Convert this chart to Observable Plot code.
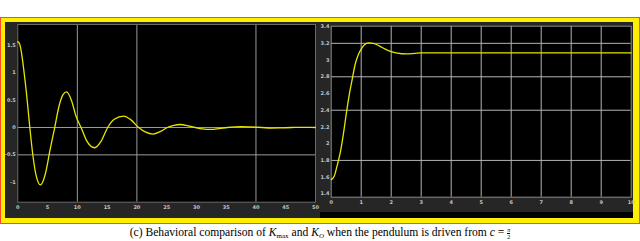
<!DOCTYPE html>
<html><head><meta charset="utf-8">
<script src="https://cdn.jsdelivr.net/npm/d3@7"></script>
<script src="https://cdn.jsdelivr.net/npm/@observablehq/plot@0.6"></script>
<style>
html,body{margin:0;padding:0;background:#fff;width:640px;height:241px;overflow:hidden;position:relative;}
#frame{position:absolute;left:0;top:17px;width:640px;height:207px;background:#ff4a2a;}
#frame2{position:absolute;left:1px;top:1px;right:1px;bottom:1px;background:#ffee00;}
#left{position:absolute;left:5px;top:22px;width:315px;height:196px;background:#262626;}
#right{position:absolute;left:320px;top:22px;width:313px;height:196px;background:#262626;}
#rstrip{position:absolute;left:0;top:190px;width:313px;height:6px;background:#000;}
#caption{position:absolute;left:0;width:640px;top:226px;text-align:center;font-family:"Liberation Serif",serif;font-size:11.6px;line-height:13px;color:#000;white-space:nowrap;}
#caption sub{font-size:7px;vertical-align:-2px;line-height:0;}
.frac{display:inline-block;vertical-align:-3px;text-align:center;font-size:6px;line-height:6px;}
.frac span{display:block;}
.frac .num{border-bottom:0.6px solid #000;}
#left svg,#right svg{position:absolute;left:0;top:0;}
</style></head>
<body>
<div id="frame"><div id="frame2"></div></div>
<div id="left"></div>
<div id="right"><div id="rstrip"></div></div>
<div id="caption">(c) Behavioral comparison of <i>K</i><sub>max</sub> and <i>K</i><sub><i>O</i></sub> when the pendulum is driven from <i>c</i> = <span class="frac"><span class="num"><i>π</i></span><span>2</span></span></div>
<script>
// Left panel: pendulum angle vs time (K_max)
const leftTime  = [0, 0.3, 0.6, 1.0, 1.5, 2.0, 2.5, 3.0, 3.8, 4.6, 5.4, 6.2, 6.9, 7.6, 8.2, 9.0, 9.8, 10.7, 11.6, 12.9, 14.0, 15.1, 16.2, 17.8, 19.0, 20.3, 21.4, 22.7, 24.0, 25.1, 26.2, 27.3, 28.6, 29.8, 31.0, 32.4, 33.8, 35.2, 36.5, 37.5, 39.0, 41.0, 42.5, 44.0, 46.0, 48.0, 50.0];
const leftAngle = [1.57, 1.53, 1.38, 1.06, 0.58, 0.02, -0.48, -0.84, -1.05, -0.86, -0.42, 0.0, 0.38, 0.6, 0.65, 0.5, 0.2, -0.02, -0.25, -0.37, -0.25, 0.0, 0.15, 0.21, 0.14, 0.0, -0.08, -0.12, -0.07, 0.0, 0.04, 0.055, 0.03, 0.0, -0.025, -0.035, -0.02, 0.0, 0.012, 0.015, 0.01, 0.0, -0.01, -0.008, 0.0, 0.002, 0.0];
const leftXTicks = [0, 5, 10, 15, 20, 25, 30, 35, 40, 45, 50];
const leftYTicks = [1.5, 1, 0.5, 0, -0.5, -1];
const leftGridX = [10, 20, 40];
const leftGridY = [0, -0.5];

// Right panel: pendulum angle vs time (K_O)
const rightTime  = [0, 0.1, 0.2, 0.3, 0.4, 0.5, 0.6, 0.7, 0.8, 0.9, 1.0, 1.1, 1.25, 1.4, 1.6, 1.8, 2.0, 2.2, 2.5, 2.8, 3.0, 10];
const rightAngle = [1.57, 1.61, 1.74, 1.89, 2.1, 2.35, 2.58, 2.77, 2.95, 3.06, 3.13, 3.18, 3.205, 3.2, 3.17, 3.13, 3.1, 3.083, 3.073, 3.08, 3.085, 3.085];
const rightXTicks = [0, 1, 2, 3, 4, 5, 6, 7, 8, 9, 10];
const rightYTicks = [3.4, 3.2, 3, 2.8, 2.6, 2.4, 2.2, 2, 1.8, 1.6, 1.4];
const rightGridX = [1, 2, 3, 4, 5, 6, 7, 8, 9];
const rightGridY = [3.2, 2.8, 2.4, 1.8];

const leftData = leftTime.map((t, i) => ({t, v: leftAngle[i]}));
const rightData = rightTime.map((t, i) => ({t, v: rightAngle[i]}));

const labelStyle = {fontSize: 5, fill: "#c4c4c4", fontWeight: "bold", label: null, tickSize: 0, tickFormat: d => String(d)};
const lineColor = "#e6e600";
const gridColor = "#9a9a9a";

const leftPlot = Plot.plot({
  width: 315, height: 196,
  marginLeft: 12.3, marginRight: 5, marginTop: 2, marginBottom: 16.3,
  style: {background: "transparent", overflow: "visible", fontFamily: "DejaVu Sans, sans-serif"},
  x: {domain: [0, 50]},
  y: {domain: [-1.366, 1.884]},
  marks: [
    Plot.frame({fill: "#000", stroke: "none"}),
    Plot.gridX(leftGridX, {stroke: gridColor, strokeOpacity: 1}),
    Plot.gridY(leftGridY, {stroke: gridColor, strokeOpacity: 1}),
    Plot.frame({stroke: "#6a6a6a"}),
    Plot.line(leftData, {x: "t", y: "v", stroke: lineColor, strokeWidth: 1.3, curve: "monotone-x"}),
    Plot.axisX(leftXTicks, {...labelStyle, tickPadding: 3}),
    Plot.axisY(leftYTicks, {...labelStyle, tickPadding: 2})
  ]
});
document.getElementById("left").appendChild(leftPlot);

const rightPlot = Plot.plot({
  width: 313, height: 190,
  marginLeft: 10.7, marginRight: 2.3, marginTop: 3.7, marginBottom: 15.3,
  style: {background: "transparent", overflow: "visible", fontFamily: "DejaVu Sans, sans-serif"},
  x: {domain: [0, 10]},
  y: {domain: [1.36, 3.405]},
  marks: [
    Plot.frame({fill: "#000", stroke: "none"}),
    Plot.gridX(rightGridX, {stroke: "#b4b4b4", strokeOpacity: 1}),
    Plot.gridY(rightGridY, {stroke: "#b4b4b4", strokeOpacity: 1}),
    Plot.frame({stroke: "#8a8a8a"}),
    Plot.line(rightData, {x: "t", y: "v", stroke: lineColor, strokeWidth: 1.3, curve: "monotone-x"}),
    Plot.axisX(rightXTicks, {...labelStyle, tickPadding: 3}),
    Plot.axisY(rightYTicks, {...labelStyle, tickPadding: 1.8})
  ]
});
document.getElementById("right").insertBefore(rightPlot, document.getElementById("rstrip"));
</script>
</body></html>
